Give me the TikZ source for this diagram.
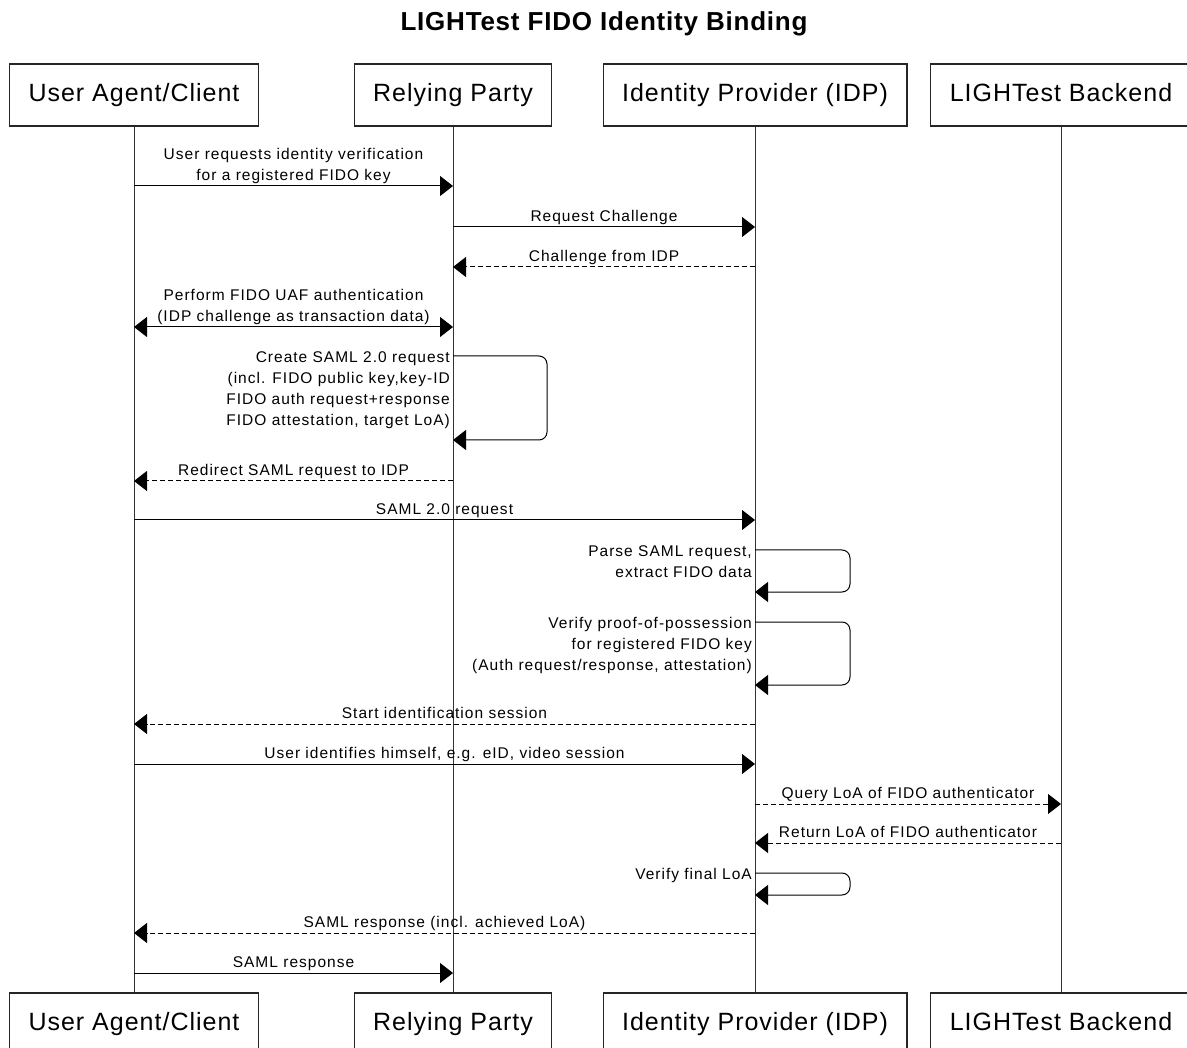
\documentclass[tikz,border=0pt]{standalone}
\usepackage{fontspec}
\setmainfont{Liberation Sans}
\newfontfamily\msgfont[LetterSpace=6.5]{Liberation Sans}
\newfontfamily\boxfont[LetterSpace=4]{Liberation Sans}
\newfontfamily\titlefont[LetterSpace=3]{Liberation Sans}
\usetikzlibrary{arrows.meta}

\begin{document}
\begin{tikzpicture}[x=1pt,y=-1pt,
  actor/.style={draw=black!85,line width=1.1pt,minimum height=62pt,inner xsep=19pt,
    text height=18pt,text depth=5pt,font=\boxfont\fontsize{25}{30}\selectfont},
  life/.style={draw=black!80,line width=0.8pt},
  msg/.style={line width=1pt,-{Triangle[length=13pt,width=20pt]}},
  reply/.style={msg,dash pattern=on 5pt off 3pt},
  both/.style={line width=1pt,{Triangle[length=13pt,width=20pt]}-{Triangle[length=13pt,width=20pt]}},
  selfmsg/.style={msg,rounded corners=8pt},
  lbl/.style={anchor=south,yshift=1.5pt,inner sep=0pt,text depth=3.5pt,align=center,
    font=\msgfont\fontsize{15.5}{21}\selectfont},
  selflbl/.style={anchor=north east,inner sep=0pt,align=right,
    font=\msgfont\fontsize{15.5}{21}\selectfont}]
\useasboundingbox (0,0) rectangle (1187,1048);
\fill[white] (0,0) rectangle (1187,1048);

%%% Title
\node[anchor=base,inner sep=0pt,font=\titlefont\bfseries\fontsize{26}{30}\selectfont] (title) at (604,31) {LIGHTest FIDO Identity Binding};

%%% Participants (top)
\node[actor] (ua) at (134,95) {User Agent/Client};
\node[actor] (rp) at (453,95) {Relying Party};
\node[actor] (idp) at (755,95) {Identity Provider (IDP)};
\node[actor] (lb) at (1061,95) {LIGHTest Backend};

%%% Participants (bottom)
\node[actor] (uab) at (134,1024) {User Agent/Client};
\node[actor] (rpb) at (453,1024) {Relying Party};
\node[actor] (idpb) at (755,1024) {Identity Provider (IDP)};
\node[actor] (lbb) at (1061,1024) {LIGHTest Backend};

%%% Lifelines
\draw[life] (ua) -- (uab);
\draw[life] (rp) -- (rpb);
\draw[life] (idp) -- (idpb);
\draw[life] (lb) -- (lbb);

%%% Challenge
\draw[msg] (ua |- 0,186) -- node[lbl] {User requests identity verification\\for a registered FIDO key} (rp |- 0,186);
\draw[msg] (rp |- 0,227) -- node[lbl] {Request Challenge} (idp |- 0,227);
\draw[reply] (idp |- 0,267) -- node[lbl] {Challenge from IDP} (rp |- 0,267);
\draw[both] (ua |- 0,327) -- node[lbl] {Perform FIDO UAF authentication\\(IDP challenge as transaction data)} (rp |- 0,327);

%%% SAML request
\draw[selfmsg] (rp |- 0,356) -- (547,356) -- (547,440) -- (rp |- 0,440);
\node[selflbl] (create) at (450,351) {Create SAML 2.0 request\\(incl. FIDO public key,key-ID\\FIDO auth request+response\\FIDO attestation, target LoA)};
\draw[reply] (rp |- 0,481) -- node[lbl] {Redirect SAML request to IDP} (ua |- 0,481);
\draw[msg] (ua |- 0,520) -- node[lbl] {SAML 2.0 request} (idp |- 0,520);

%%% Checks at the IDP
\draw[selfmsg] (idp |- 0,550) -- (850,550) -- (850,592) -- (idp |- 0,592);
\node[selflbl] (parse) at (752,545) {Parse SAML request,\\extract FIDO data};
\draw[selfmsg] (idp |- 0,622) -- (850,622) -- (850,685) -- (idp |- 0,685);
\node[selflbl] (verify) at (752,617) {Verify proof-of-possession\\for registered FIDO key\\(Auth request/response, attestation)};

%%% Identification
\draw[reply] (idp |- 0,724) -- node[lbl] {Start identification session} (ua |- 0,724);
\draw[msg] (ua |- 0,764) -- node[lbl] {User identifies himself, e.g. eID, video session} (idp |- 0,764);
\draw[reply] (idp |- 0,804) -- node[lbl] {Query LoA of FIDO authenticator} (lb |- 0,804);
\draw[reply] (lb |- 0,843) -- node[lbl] {Return LoA of FIDO authenticator} (idp |- 0,843);
\draw[selfmsg] (idp |- 0,873) -- (850,873) -- (850,895) -- (idp |- 0,895);
\node[selflbl] (final) at (752,868) {Verify final LoA};

%%% Response
\draw[reply] (idp |- 0,933) -- node[lbl] {SAML response (incl. achieved LoA)} (ua |- 0,933);
\draw[msg] (ua |- 0,973) -- node[lbl] {SAML response} (rp |- 0,973);
\end{tikzpicture}
\end{document}
